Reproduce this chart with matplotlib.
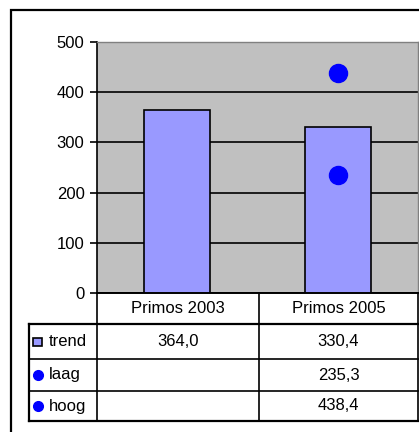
import matplotlib
matplotlib.use("Agg")
import matplotlib.pyplot as plt
from matplotlib.patches import Rectangle
from matplotlib.lines import Line2D

categories = ["Primos 2003", "Primos 2005"]
trend = [364.0, 330.4]
laag = [None, 235.3]
hoog = [None, 438.4]
series_names = ["trend", "laag", "hoog"]
y_ticks = [0, 100, 200, 300, 400, 500]

W, H = 419, 432
plt.rcParams['font.family'] = ['Liberation Sans', 'DejaVu Sans']

fig = plt.figure(figsize=(W / 100, H / 100), dpi=100)
fig.patch.set_facecolor('white')


def fx(x):
    return x / W


def fy(y):
    return 1 - y / H


def hline(x0, x1, y, lw=1.2, color='black'):
    fig.add_artist(Line2D([fx(x0), fx(x1)], [fy(y), fy(y)], color=color, lw=lw,
                          transform=fig.transFigure))


def vline(x, y0, y1, lw=1.2, color='black'):
    fig.add_artist(Line2D([fx(x), fx(x)], [fy(y0), fy(y1)], color=color, lw=lw,
                          transform=fig.transFigure))


# outer chart frame (runs off the picture to the right and bottom)
fig.add_artist(Rectangle((fx(11), fy(445)), fx(440 - 11), fy(10) - fy(445),
                         fill=False, edgecolor='black', lw=1.6,
                         transform=fig.transFigure))

# plot area
left, top, right, bottom = 97, 42, 418, 293
ax = fig.add_axes([fx(left), fy(bottom), fx(right - left), fy(top) - fy(bottom)])
ax.set_facecolor('#C0C0C0')

x = list(range(len(categories)))
ax.bar(x, trend, width=0.41, color='#9999FF', edgecolor='black', lw=1.2, zorder=3)
for s in (laag, hoog):
    xs = [i for i, v in zip(x, s) if v is not None]
    vs = [v for v in s if v is not None]
    ax.plot(xs, vs, 'o', color='#0000FF', ms=13, zorder=4)

ax.set_xlim(-0.5, len(categories) - 0.5)
ax.set_ylim(0, 500)
ax.set_yticks(y_ticks)
ax.set_yticklabels([str(t) for t in y_ticks], fontsize=12)
ax.tick_params(axis='y', length=5, width=1.2, pad=4)
ax.set_xticks([])
ax.yaxis.grid(True, color='black', lw=1.2, zorder=1)
ax.set_axisbelow(True)
for side in ('top', 'right'):
    ax.spines[side].set_color('#808080')
    ax.spines[side].set_linewidth(1)
ax.spines['left'].set_linewidth(1.2)
ax.spines['bottom'].set_linewidth(1.2)

# data table below the plot
col_edges = [97, 259, 418]
row_edges = [293, 324, 359, 391, 421]
label_left = 29

# header row
hline(col_edges[0], col_edges[-1], row_edges[0])
for c in col_edges:
    vline(c, row_edges[0], row_edges[-1])
for i, cat in enumerate(categories):
    cx = (col_edges[i] + col_edges[i + 1]) / 2
    fig.text(fx(cx), fy((row_edges[0] + row_edges[1]) / 2), cat,
             ha='center', va='center', fontsize=12)

# data rows
for r in range(1, len(row_edges)):
    hline(label_left, col_edges[-1], row_edges[r], lw=1.6 if r in (1, len(row_edges) - 1) else 1.2)
vline(label_left, row_edges[1], row_edges[-1], lw=1.6)

rows = [trend, laag, hoog]
for r, (name, vals) in enumerate(zip(series_names, rows)):
    cy = (row_edges[r + 1] + row_edges[r + 2]) / 2
    if name == 'trend':
        fig.add_artist(Rectangle((fx(33), fy(cy + 4)), fx(9), fy(cy - 4) - fy(cy + 4),
                                 facecolor='#9999FF', edgecolor='black', lw=1.2,
                                 transform=fig.transFigure))
    else:
        fig.add_artist(Line2D([fx(37.5)], [fy(cy)], marker='o', color='#0000FF',
                              ms=7, transform=fig.transFigure))
    fig.text(fx(49), fy(cy), name, ha='left', va='center', fontsize=12)
    for i, v in enumerate(vals):
        if v is None:
            continue
        cx = (col_edges[i] + col_edges[i + 1]) / 2
        fig.text(fx(cx), fy(cy), f"{v:.1f}".replace('.', ','),
                 ha='center', va='center', fontsize=12)

fig.savefig("out.png", dpi=100)
